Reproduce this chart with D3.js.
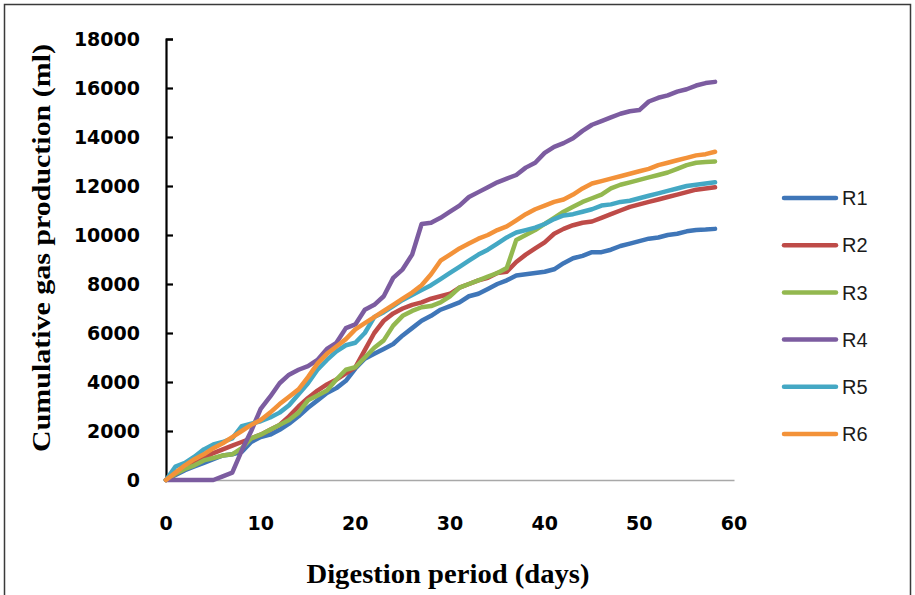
<!DOCTYPE html>
<html><head><meta charset="utf-8">
<script src="https://cdn.jsdelivr.net/npm/d3@7/dist/d3.min.js"></script>
<style>body{margin:0;background:#fff}svg{display:block}</style>
</head><body><svg id="c" width="915" height="595"></svg>
<script>
const days = [0,1,2,3,4,5,6,7,8,9,10,11,12,13,14,15,16,17,18,19,20,21,22,23,24,25,26,27,28,29,30,31,32,33,34,35,36,37,38,39,40,41,42,43,44,45,46,47,48,49,50,51,52,53,54,55,56,57,58];
const R1 = [0,200,400,550,700,850,1000,1050,1150,1550,1750,1850,2050,2300,2600,2950,3250,3550,3750,4050,4550,4950,5150,5350,5550,5900,6200,6500,6700,6950,7100,7250,7500,7600,7800,8000,8150,8350,8400,8450,8500,8600,8850,9050,9150,9300,9300,9400,9550,9650,9750,9850,9900,10000,10050,10150,10200,10220,10250];
const R2 = [0,250,500,700,900,1100,1250,1400,1550,1700,1850,2050,2250,2600,3000,3350,3650,3900,4100,4350,4600,5300,6000,6500,6800,7000,7150,7250,7400,7500,7600,7850,8000,8150,8250,8450,8500,8900,9200,9450,9700,10050,10250,10400,10500,10550,10700,10850,11000,11150,11250,11350,11450,11550,11650,11750,11850,11900,11950];
const R3 = [0,250,450,600,800,900,1000,1050,1300,1700,1850,2050,2250,2450,2750,3250,3450,3650,4100,4500,4600,5000,5400,5700,6300,6700,6900,7050,7100,7250,7500,7850,8000,8150,8300,8450,8650,9800,10000,10200,10450,10700,10950,11150,11350,11500,11650,11900,12050,12150,12250,12350,12450,12550,12700,12850,12950,12980,13000];
const R4 = [0,0,0,0,0,0,150,300,1200,2000,2900,3400,3950,4300,4500,4650,4900,5350,5600,6200,6350,6950,7150,7500,8250,8600,9200,10450,10500,10700,10950,11200,11550,11750,11950,12150,12300,12450,12750,12950,13350,13600,13750,13950,14250,14500,14650,14800,14950,15050,15100,15450,15600,15700,15850,15950,16100,16200,16250];
const R5 = [0,550,700,950,1250,1450,1550,1700,2200,2300,2400,2550,2750,3050,3500,3950,4500,4900,5250,5500,5600,6000,6650,6850,7100,7350,7550,7750,7950,8200,8450,8700,8950,9200,9400,9650,9900,10100,10200,10300,10450,10650,10800,10850,10950,11050,11200,11250,11350,11400,11500,11600,11700,11800,11900,12000,12050,12100,12150];
const R6 = [0,300,600,850,1050,1300,1500,1750,2000,2250,2450,2750,3100,3400,3700,4200,4750,5150,5450,5750,6150,6400,6650,6900,7150,7400,7650,7950,8400,8950,9200,9450,9650,9850,10000,10200,10350,10600,10850,11050,11200,11350,11450,11650,11900,12100,12200,12300,12400,12500,12600,12700,12850,12950,13050,13150,13250,13300,13400];
const seriesNames = ["R1","R2","R3","R4","R5","R6"];
const seriesValues = [R1,R2,R3,R4,R5,R6];
const seriesColors = ["#3F76B8","#BE4B48","#93B84F","#7C5CA0","#44A8C4","#F39239"];
const yTicks = [0,2000,4000,6000,8000,10000,12000,14000,16000,18000];
const xTicks = [0,10,20,30,40,50,60];
const xTitle = "Digestion period (days)";
const yTitle = "Cumulative gas production (ml)";

const svg = d3.select("#c");
svg.append("rect").attr("width",915).attr("height",595).attr("fill","#fff");
// outer frame
svg.append("path").attr("d","M4.5,600V4.5H910.5V600").attr("fill","none").attr("stroke","#3a3a3a").attr("stroke-width",1.5);

const x = d3.scaleLinear().domain([0,60]).range([166,734]);
const y = d3.scaleLinear().domain([0,18000]).range([480,39]);

// x axis line (gray, no ticks)
svg.append("g").attr("transform","translate(0,480)")
  .call(d3.axisBottom(x).tickValues([]).tickSizeOuter(0))
  .call(g=>g.select(".domain").attr("stroke","#a8a8a8").attr("stroke-width",1.5));

// y axis with inward ticks
svg.append("g").attr("transform","translate(166,0)")
  .call(d3.axisRight(y).tickValues(yTicks).tickSize(7).tickFormat(""))
  .call(g=>{g.select(".domain").attr("stroke","#000").attr("stroke-width",2.2);
            g.selectAll(".tick line").attr("stroke","#000").attr("stroke-width",2.2);});

// tick labels
svg.append("g").selectAll("text").data(yTicks).join("text")
  .attr("x",140).attr("y",d=>y(d)).attr("dy","0.36em").attr("text-anchor","end")
  .attr("font-family","DejaVu Sans").attr("font-weight","bold").attr("font-size",19)
  .attr("fill","#000").text(d=>d);
svg.append("g").selectAll("text").data(xTicks).join("text")
  .attr("x",d=>x(d)).attr("y",523).attr("dy","0.36em").attr("text-anchor","middle")
  .attr("font-family","DejaVu Sans").attr("font-weight","bold").attr("font-size",19)
  .attr("fill","#000").text(d=>d);

// axis titles
svg.append("text").attr("x",448).attr("y",583).attr("text-anchor","middle")
  .attr("font-family","Liberation Serif").attr("font-weight","bold").attr("font-size",27)
  .attr("textLength",283).attr("lengthAdjust","spacingAndGlyphs").text(xTitle);
svg.append("text").attr("transform","translate(50,248) rotate(-90)").attr("text-anchor","middle")
  .attr("font-family","Liberation Serif").attr("font-weight","bold").attr("font-size",26)
  .attr("textLength",408).attr("lengthAdjust","spacingAndGlyphs").text(yTitle);

// lines
const line = d3.line().x((d,i)=>x(days[i])).y(d=>y(d));
svg.append("g").selectAll("path").data(seriesValues).join("path")
  .attr("d",line).attr("fill","none")
  .attr("stroke",(d,i)=>seriesColors[i]).attr("stroke-width",4.5)
  .attr("stroke-linejoin","round").attr("stroke-linecap","round");

// legend
const lg = svg.append("g").selectAll("g").data(seriesNames).join("g")
  .attr("transform",(d,i)=>`translate(0,${198+i*47.2})`);
lg.append("line").attr("x1",784).attr("x2",836).attr("y1",0).attr("y2",0)
  .attr("stroke",(d,i)=>seriesColors[i]).attr("stroke-width",4.5).attr("stroke-linecap","round");
lg.append("text").attr("x",842).attr("y",0).attr("dy","0.36em")
  .attr("font-family","Liberation Sans").attr("font-size",20).attr("fill","#1a1a1a").text(d=>d);
</script></body></html>
